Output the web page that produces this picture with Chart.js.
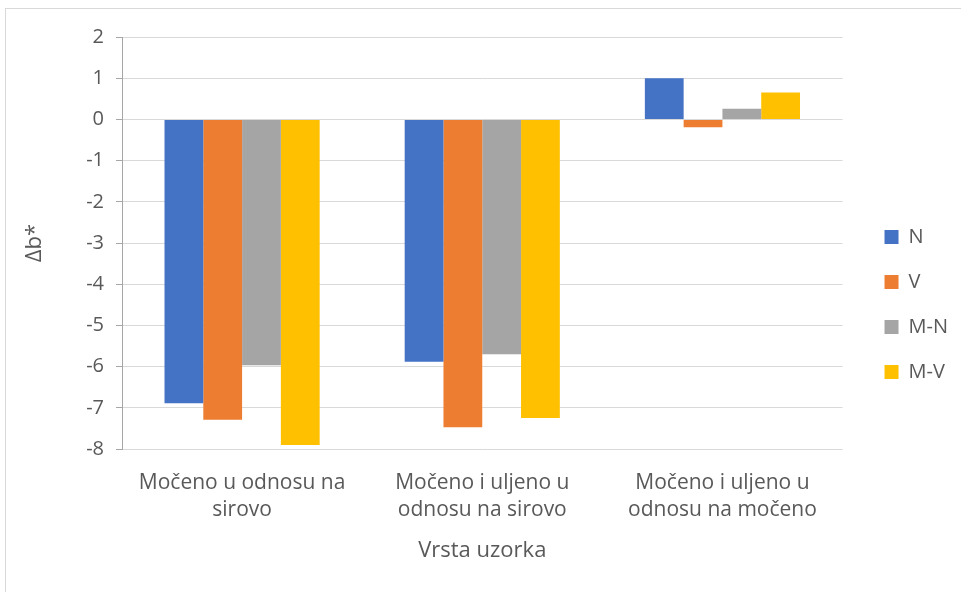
<!DOCTYPE html>
<html>
<head>
<meta charset="utf-8">
<script src="https://cdn.jsdelivr.net/npm/chart.js@4"></script>
<style>
  body { margin: 0; background: #fff; }
  #okvir { position: absolute; left: 5px; top: 8px; width: 1000px; height: 700px; border: 1px solid #d9d9d9; }
  #wrap { position: absolute; left: 0; top: 0; width: 961px; height: 592px; }
</style>
</head>
<body>
<div id="okvir"></div>
<div id="wrap"><canvas id="grafikon"></canvas></div>
<script>
const kategorije = [
  ['Močeno u odnosu na', 'sirovo'],
  ['Močeno i uljeno u', 'odnosu na sirovo'],
  ['Močeno i uljeno u', 'odnosu na močeno']
];
const nizN = [-6.89, -5.88, 1.0];
const nizV = [-7.29, -7.47, -0.19];
const nizMN = [-5.97, -5.70, 0.26];
const nizMV = [-7.90, -7.25, 0.65];

const boje = ['#4472c4', '#ed7d31', '#a5a5a5', '#ffc000'];
const font = 'Open Sans, "Noto Sans", sans-serif';
const siva = '#595959';

Chart.defaults.font.family = font;
Chart.defaults.color = siva;

// legenda malo desnije od ruba grafa
const pomakLegende = {
  id: 'pomakLegende',
  afterLayout(chart) {
    chart.legend.left += 17;
    chart.legend.right += 17;
    chart.legend.top += 4;
    chart.legend.bottom += 4;
  }
};

new Chart(document.getElementById('grafikon'), {
  type: 'bar',
  data: {
    labels: kategorije,
    datasets: [
      { label: 'N', data: nizN, backgroundColor: boje[0] },
      { label: 'V', data: nizV, backgroundColor: boje[1] },
      { label: 'M-N', data: nizMN, backgroundColor: boje[2] },
      { label: 'M-V', data: nizMV, backgroundColor: boje[3] }
    ]
  },
  plugins: [pomakLegende],
  options: {
    responsive: true,
    maintainAspectRatio: false,
    animation: false,
    categoryPercentage: 0.646,
    barPercentage: 1,
    layout: { padding: { top: 37, left: 22, right: 20, bottom: 28 } },
    plugins: {
      tooltip: { enabled: false },
      legend: {
        position: 'right',
        labels: {
          boxWidth: 14,
          boxHeight: 14,
          padding: 25,
          font: { size: 20 },
          color: siva
        }
      }
    },
    scales: {
      x: {
        grid: { display: false, drawTicks: false },
        border: { display: false },
        ticks: { font: { size: 21, lineHeight: 1.3 }, padding: 20, maxRotation: 0 },
        title: { display: true, text: 'Vrsta uzorka', font: { size: 22 }, padding: { top: -6, bottom: 0 } }
      },
      y: {
        min: -8,
        max: 2,
        ticks: { stepSize: 1, font: { size: 20 }, padding: 12 },
        grid: { color: '#d9d9d9', tickColor: '#a6a6a6', tickLength: 6 },
        border: { color: '#a6a6a6' },
        title: { display: true, text: 'Δb*', font: { size: 22 }, padding: { top: 0, bottom: 0 } },
        afterFit(scale) { scale.width = 100; }
      }
    }
  }
});
</script>
</body>
</html>
